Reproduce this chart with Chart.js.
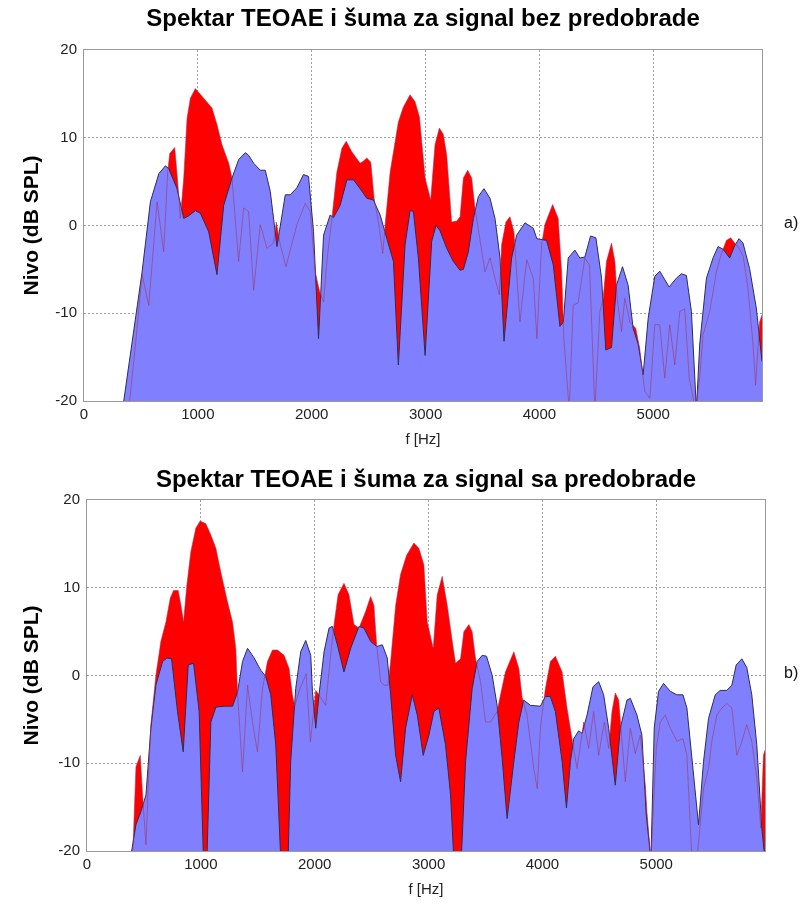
<!DOCTYPE html>
<html><head><meta charset="utf-8">
<script src="https://cdn.jsdelivr.net/npm/chart.js@4/dist/chart.umd.min.js"></script>
<style>
body{margin:0;background:#fff;width:809px;height:904px;position:relative;overflow:hidden;font-family:"Liberation Sans",Arial,sans-serif}
.wrap{position:absolute;left:0;width:809px;height:452px}
.lab{position:absolute;font-size:16px;color:#111;font-family:"Liberation Sans",Arial,sans-serif}
</style></head><body>
<div class="wrap" style="top:0"><canvas id="c1" width="809" height="452"></canvas></div>
<div class="wrap" style="top:452px"><canvas id="c2" width="809" height="452"></canvas></div>
<div class="lab" style="left:784px;top:214px">a)</div>
<div class="lab" style="left:784px;top:664px">b)</div>
<script>
// ---- data (frequency Hz, level dB SPL) ----
const titleA = 'Spektar TEOAE i šuma za signal bez predobrade';
const titleB = 'Spektar TEOAE i šuma za signal sa predobrade';
const yLabel = 'Nivo (dB SPL)';
const xLabel = 'f [Hz]';
const xTicks = [0, 1000, 2000, 3000, 4000, 5000];
const yTicks = [-20, -10, 0, 10, 20];

const topNoise = [[349,-20],[510,-5.3],[583,2.7],[657,5.9],[715,6.8],[744,6.5],[817,4.2],[876,0.8],[920,1.1],[978,1.7],[1022,1.4],[1095,-0.7],[1168,-5.6],[1227,2.3],[1300,5.4],[1358,7.5],[1417,8.3],[1446,8.0],[1490,7.1],[1548,6.3],[1592,6.3],[1636,3.9],[1695,-2.4],[1768,3.5],[1811,3.5],[1870,4.3],[1928,5.8],[1972,5.6],[2016,-0.7],[2060,-12.9],[2104,-1.1],[2162,1.2],[2191,0.9],[2250,2.3],[2309,5.2],[2367,5.2],[2425,4.2],[2484,3.1],[2542,2.9],[2601,1.2],[2660,-1.5],[2718,-4.1],[2761,-15.9],[2820,-2.2],[2864,1.7],[2893,1.6],[2937,-3.7],[2996,-14.8],[3054,-1.8],[3092,0.0],[3127,-0.6],[3186,-2.6],[3244,-4.1],[3303,-5.1],[3332,-5.0],[3376,-3.0],[3420,0.8],[3464,3.3],[3513,4.2],[3566,3.1],[3610,0.8],[3654,-3.7],[3689,-13.2],[3756,-3.7],[3800,-1.1],[3873,0.3],[3946,-0.3],[3977,-1.5],[4063,-1.7],[4122,-4.5],[4180,-11.5],[4210,-11.0],[4253,-3.7],[4311,-2.8],[4355,-3.7],[4399,-3.6],[4449,-1.2],[4496,-1.4],[4546,-6.0],[4583,-14.2],[4633,-13.9],[4677,-6.8],[4730,-4.7],[4779,-6.8],[4823,-11.7],[4867,-13.5],[4911,-17.0],[4955,-10.6],[5013,-5.8],[5057,-5.2],[5139,-7.0],[5203,-6.0],[5247,-5.5],[5291,-5.7],[5335,-9.8],[5379,-21],[5408,-13.5],[5467,-6.0],[5525,-3.7],[5569,-2.4],[5613,-2.7],[5671,-3.7],[5715,-2.3],[5753,-1.5],[5788,-2.0],[5846,-4.9],[5905,-9.4],[5955,-15.5]];

const topSignal = [[393,-21],[452,-13.6],[510,-5.6],[569,-9.1],[642,2.7],[700,-3.0],[735,6.1],[753,8.2],[797,8.9],[823,5.0],[846,0.8],[876,5.4],[905,12.2],[934,14.5],[978,15.6],[1051,14.5],[1124,13.4],[1168,11.5],[1212,9.2],[1271,7.1],[1300,5.4],[1358,-4.1],[1402,2.0],[1446,1.6],[1490,-7.4],[1548,0.1],[1607,-2.6],[1665,-2.0],[1689,0.4],[1724,-2.2],[1774,-4.7],[1870,0.1],[1943,2.5],[1987,1.6],[2031,-5.3],[2069,-7.5],[2104,-8.7],[2133,-4.1],[2177,0.8],[2221,6.1],[2265,8.8],[2303,9.6],[2352,8.4],[2425,7.1],[2450,7.3],[2484,7.7],[2519,7.2],[2548,3.1],[2586,0.4],[2624,-3.2],[2645,0.1],[2689,6.1],[2761,11.8],[2805,13.5],[2864,14.9],[2908,14.1],[2946,12.4],[2996,5.4],[3045,2.9],[3083,9.2],[3121,11.1],[3156,10.4],[3186,8.0],[3229,0.4],[3274,0.5],[3303,1.0],[3332,5.4],[3370,6.3],[3405,5.4],[3434,2.0],[3522,-5.3],[3566,-3.7],[3610,-6.0],[3648,-7.9],[3668,-2.2],[3706,0.4],[3741,1.0],[3776,-0.7],[3829,-11.0],[3888,-3.9],[3946,-6.0],[3978,-12.9],[4019,-2.2],[4048,0.1],[4116,2.4],[4165,0.8],[4195,-5.3],[4215,-13.0],[4262,-21],[4297,-9.1],[4340,-8.8],[4399,-3.7],[4440,-4.5],[4487,-21],[4531,-9.8],[4560,-8.3],[4589,-4.1],[4633,-2.0],[4663,-4.1],[4683,-8.3],[4721,-12.1],[4750,-8.3],[4794,-11.0],[4846,-11.7],[4881,-14.0],[4925,-18.9],[4970,-19.7],[5013,-11.3],[5057,-11.3],[5101,-17.4],[5145,-11.3],[5189,-15.9],[5233,-9.8],[5276,-9.5],[5316,-17.4],[5370,-21],[5408,-17.4],[5437,-12.5],[5496,-9.8],[5554,-5.3],[5598,-3.2],[5642,-1.7],[5680,-1.4],[5715,-2.0],[5753,-2.6],[5790,-3.5],[5832,-7.2],[5876,-13.5],[5899,-18.2],[5934,-11.0],[5955,-10.2]];

const botNoise = [[392,-20],[430,-17.0],[474,-15.5],[518,-13.6],[561,-6.0],[605,-1.1],[664,1.6],[702,2.0],[743,1.9],[795,-4.1],[845,-8.7],[889,1.2],[936,1.4],[985,-4.1],[1023,-21],[1053,-21],[1088,-5.3],[1132,-3.6],[1205,-3.5],[1278,-3.5],[1322,-1.9],[1366,1.6],[1410,3.1],[1468,2.0],[1526,0.6],[1570,-0.1],[1614,-2.2],[1658,-7.9],[1702,-21],[1766,-21],[1789,-9.8],[1833,-1.5],[1877,2.7],[1921,4.0],[1965,2.3],[1980,-1.8],[2009,-6.0],[2038,-2.2],[2082,2.7],[2126,5.4],[2155,5.6],[2199,3.5],[2257,0.4],[2316,3.1],[2389,5.6],[2433,5.4],[2491,3.9],[2544,3.3],[2594,3.5],[2637,2.0],[2667,-2.2],[2711,-9.1],[2754,-12.1],[2798,-6.0],[2857,-2.2],[2901,-4.5],[2953,-9.1],[3003,-6.8],[3047,-4.1],[3090,-3.7],[3149,-7.9],[3193,-13.6],[3222,-21],[3287,-21],[3325,-9.8],[3383,-1.5],[3427,1.6],[3471,2.3],[3509,2.2],[3559,0.0],[3602,-3.4],[3646,-9.4],[3690,-16.3],[3749,-9.8],[3793,-5.3],[3836,-2.8],[3895,-3.4],[3982,-3.5],[4026,-2.4],[4070,-2.4],[4114,-4.1],[4173,-9.8],[4211,-15.1],[4246,-9.8],[4275,-7.2],[4319,-6.3],[4348,-6.6],[4392,-4.5],[4444,-1.3],[4494,-0.7],[4538,-2.2],[4582,-6.0],[4640,-12.5],[4684,-6.0],[4743,-2.8],[4772,-2.6],[4830,-4.5],[4874,-6.8],[4912,-15.9],[4953,-21],[4982,-6.0],[5020,-1.8],[5064,-0.9],[5123,-1.8],[5181,-2.2],[5234,-2.2],[5269,-3.7],[5313,-9.4],[5371,-17.0],[5415,-9.8],[5459,-4.9],[5518,-2.2],[5561,-1.7],[5620,-1.7],[5664,-1.1],[5702,1.2],[5752,1.9],[5795,0.9],[5839,-2.2],[5883,-7.9],[5927,-17.4],[5955,-21]];

const botSignal = [[400,-21],[430,-10.4],[468,-9.1],[488,-13.6],[518,-19.3],[547,-9.8],[561,-5.6],[605,0.0],[649,3.9],[693,6.1],[731,8.8],[760,9.7],[801,9.7],[825,8.0],[848,6.1],[877,10.3],[912,14.1],[956,16.8],[994,17.6],[1044,17.3],[1088,16.0],[1132,14.5],[1175,11.8],[1234,8.4],[1278,6.1],[1307,3.1],[1322,-1.9],[1366,-11.0],[1410,-1.1],[1453,-5.3],[1497,-8.7],[1541,-1.5],[1585,1.6],[1629,2.9],[1673,2.9],[1731,2.3],[1775,0.8],[1804,-2.2],[1825,-3.5],[1870,-1.5],[1925,0.2],[1962,-7.6],[2009,-1.7],[2038,-2.2],[2096,-3.4],[2140,2.3],[2170,5.8],[2205,9.2],[2257,10.5],[2301,9.2],[2345,5.8],[2389,5.4],[2447,7.3],[2491,9.0],[2520,8.0],[2544,3.5],[2579,-0.7],[2608,-1.1],[2643,-1.1],[2667,1.6],[2711,8.0],[2754,11.5],[2807,13.7],[2871,15.1],[2915,14.5],[2959,12.6],[2988,6.1],[3041,3.1],[3076,9.2],[3120,11.3],[3164,8.0],[3208,3.9],[3237,1.4],[3281,1.9],[3310,5.0],[3354,5.8],[3383,5.0],[3412,2.0],[3456,-0.7],[3500,-5.3],[3544,-5.3],[3602,-4.1],[3632,-2.2],[3675,0.4],[3749,2.7],[3793,0.8],[3822,-2.5],[3865,-4.5],[3924,-10.6],[3955,-12.9],[3982,-6.0],[4026,-1.5],[4070,1.6],[4114,2.2],[4173,0.4],[4216,-3.7],[4260,-7.2],[4304,-10.6],[4363,-5.3],[4406,-8.3],[4450,-4.1],[4494,-9.1],[4544,-5.3],[4582,-8.3],[4611,-4.1],[4640,-2.0],[4670,-2.8],[4690,-6.0],[4728,-12.1],[4772,-6.0],[4816,-8.9],[4860,-6.8],[4904,-12.5],[4918,-15.5],[4953,-21],[5000,-8.3],[5035,-5.3],[5079,-4.5],[5123,-6.0],[5181,-7.5],[5234,-7.2],[5269,-9.1],[5313,-21],[5357,-21],[5415,-12.9],[5459,-10.6],[5488,-7.5],[5532,-4.5],[5576,-3.7],[5620,-3.2],[5664,-3.7],[5708,-9.1],[5752,-7.5],[5795,-5.6],[5839,-7.5],[5883,-11.7],[5918,-17.4],[5941,-9.1],[5955,-8.5]];

const X_MIN = 0, X_MAX = 5955, Y_MIN = -20, Y_MAX = 20;
const FONT = '"Liberation Sans", Arial, sans-serif';

const frame = {
  id: 'frame',
  afterDatasetsDraw(chart) {
    const {ctx, chartArea: a} = chart;
    ctx.save();
    ctx.strokeStyle = '#9a9a9a';
    ctx.lineWidth = 1;
    ctx.strokeRect(Math.round(a.left) - 0.5, Math.round(a.top) - 0.5, Math.round(a.right - a.left) + 1, Math.round(a.bottom - a.top) + 1);
    ctx.restore();
  }
};

const xy = arr => arr.map(p => ({x: p[0], y: p[1]}));

function makeChart(id, title, noise, signal, L) {
  const gridCol = (lo, hi) => c => (c.tick && (c.tick.value === lo || c.tick.value === hi)) ? 'rgba(0,0,0,0)' : '#a0a0a0';
  return new Chart(document.getElementById(id), {
    type: 'line',
    data: {
      datasets: [
        { label: 'signal line', data: xy(signal), borderColor: 'rgba(160,50,90,0.55)', borderWidth: 1, fill: false, pointRadius: 0, tension: 0, order: 1, clip: 0 },
        { label: 'noise', data: xy(noise), borderColor: '#2c2c58', borderWidth: 1, backgroundColor: '#8080ff', fill: 'start', pointRadius: 0, tension: 0, order: 2, clip: 0 },
        { label: 'signal', data: xy(signal), borderColor: 'rgba(0,0,0,0)', borderWidth: 0, backgroundColor: '#ff0000', fill: 'start', pointRadius: 0, tension: 0, order: 3, clip: 0 }
      ]
    },
    options: {
      responsive: false, animation: false, devicePixelRatio: 1,
      layout: { padding: { left: 0, right: L.right, top: 0, bottom: L.bottom } },
      plugins: {
        legend: { display: false }, tooltip: { enabled: false },
        title: { display: true, text: title, fullSize: false, color: '#000',
          font: { family: FONT, size: 24, weight: 'bold' }, padding: { top: L.tTop, bottom: L.tBot } }
      },
      scales: {
        x: { type: 'linear', min: X_MIN, max: X_MAX,
          afterBuildTicks: s => { s.ticks = xTicks.map(v => ({value: v})); },
          afterFit: s => { s.height = 50; },
          ticks: { color: '#222', font: { family: FONT, size: 15 }, padding: 5, maxRotation: 0, callback: v => String(v) },
          grid: { color: gridCol(X_MIN, X_MAX), drawTicks: false, lineWidth: 1 },
          border: { display: false, dash: [2, 2] },
          title: { display: true, text: xLabel, color: '#222', font: { family: FONT, size: 15 }, padding: { top: 0, bottom: 2 } }
        },
        y: { min: Y_MIN, max: Y_MAX,
          afterBuildTicks: s => { s.ticks = yTicks.map(v => ({value: v})); },
          afterFit: s => { s.width = L.left; },
          ticks: { color: '#222', font: { family: FONT, size: 15 }, padding: 7 },
          grid: { color: gridCol(Y_MIN, Y_MAX), drawTicks: false, lineWidth: 1 },
          border: { display: false, dash: [2, 2] },
          title: { display: true, text: yLabel, color: '#000', font: { family: FONT, size: 21, weight: 'bold' }, padding: { top: 20, bottom: 0 } }
        }
      }
    },
    plugins: [frame]
  });
}

makeChart('c1', titleA, topNoise, topSignal, { left: 84, right: 47, bottom: 1, tTop: 5, tBot: 16.2 });
makeChart('c2', titleB, botNoise, botSignal, { left: 87, right: 44, bottom: 3, tTop: 14, tBot: 5.2 });
</script>
</body></html>
